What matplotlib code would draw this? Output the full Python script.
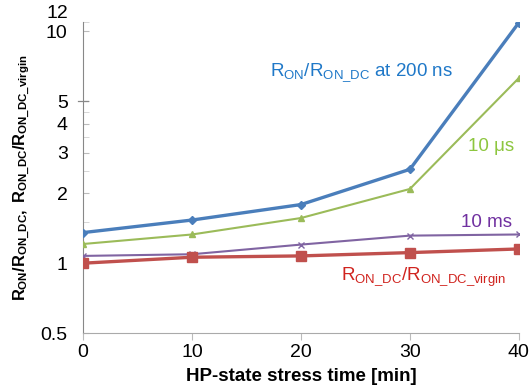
import matplotlib
matplotlib.use("Agg")
import matplotlib.pyplot as plt
import matplotlib.transforms as mtransforms
from matplotlib.ticker import FixedLocator, NullFormatter

plt.rcParams['font.family'] = ['Liberation Sans', 'DejaVu Sans']
plt.rcParams['mathtext.fontset'] = 'custom'
plt.rcParams['mathtext.rm'] = 'Liberation Sans'
plt.rcParams['mathtext.it'] = 'Liberation Sans:italic'
plt.rcParams['mathtext.bf'] = 'Liberation Sans:bold'

stress_time = [0, 10, 20, 30, 40]
ron_200ns = [1.355, 1.535, 1.79, 2.54, 10.9]
ron_10us = [1.21, 1.33, 1.566, 2.09, 6.29]
ron_10ms = [1.075, 1.093, 1.203, 1.315, 1.33]
ron_dc = [1.0, 1.061, 1.075, 1.111, 1.152]

ytick_vals = [0.5, 1, 2, 3, 4, 5, 10]
ytick_labels = ['0.5', '1', '2', '3', '4', '5', '10']
xtick_vals = [0, 10, 20, 30, 40]

fig = plt.figure(figsize=(5.3, 3.92), dpi=100)
ax = fig.add_axes([0.1566, 0.1505, 0.979 - 0.1566, 0.9446 - 0.1505])

ax.plot(stress_time, ron_200ns, color='#4A7EBB', lw=2.4, marker='D', ms=4.5, zorder=4)
ax.plot(stress_time, ron_10us, color='#9BBB59', lw=1.5, marker='^', ms=5, zorder=3)
ax.plot(stress_time, ron_10ms, color='#8064A2', lw=1.5, marker='x', ms=5, mew=1.0, zorder=3)
ax.plot(stress_time, ron_dc, color='#C0504D', lw=2.4, marker='s', ms=7, zorder=5)

ax.set_yscale('log')
ax.set_ylim(0.5, 11)
ax.set_xlim(0, 40)

ax.yaxis.set_major_locator(FixedLocator(ytick_vals))
ax.set_yticklabels(ytick_labels)
ax.yaxis.set_minor_locator(FixedLocator([1.5, 2.5, 3.5, 4.5, 11]))
ax.yaxis.set_minor_formatter(NullFormatter())
ax.tick_params(axis='y', which='major', direction='in', length=4, color='#BBBBBB',
               labelsize=14, pad=11)
ax.tick_params(axis='y', which='minor', direction='in', length=4, color='#D0D0D0')
ax.set_xticks(xtick_vals)
ax.tick_params(axis='x', which='major', direction='out', length=5, color='#BBBBBB',
               labelsize=14, pad=3)

for s in ['top', 'right']:
    ax.spines[s].set_visible(False)
ax.spines['left'].set_color('#888888')
ax.spines['bottom'].set_color('#AAAAAA')

# crossing tick at 5
bt = mtransforms.blended_transform_factory(ax.transAxes, ax.transData)
for v in [5]:
    ax.plot([-0.012, 0.012], [v, v], color='#888888', lw=0.9, transform=bt, clip_on=False)

ax.text(-0.033, 11.9, '12', transform=bt, ha='right', va='center', fontsize=14, clip_on=False)

ax.set_xlabel('HP-state stress time [min]', fontsize=13.5, fontweight='bold', labelpad=5)
ax.set_ylabel(r'$\mathbf{R}_{\mathbf{ON}}\mathbf{/R}_{\mathbf{ON\_DC}}\mathbf{,\ R}_{\mathbf{ON\_DC}}'
              r'\mathbf{/R}_{\mathbf{ON\_DC\_virgin}}$', fontsize=11.8, labelpad=6)

ax.text(0.428, 0.835, r'R$_{\mathrm{ON}}$/R$_{\mathrm{ON\_DC}}$ at 200 ns', transform=ax.transAxes,
        color='#1F78C8', fontsize=13.5, va='center', ha='left')
ax.text(0.99, 0.60, '10 μs', transform=ax.transAxes, color='#8DC63F', fontsize=13.5,
        va='center', ha='right')
ax.text(0.985, 0.355, '10 ms', transform=ax.transAxes, color='#7030A0', fontsize=13.5,
        va='center', ha='right')
ax.text(0.97, 0.18, r'R$_{\mathrm{ON\_DC}}$/R$_{\mathrm{ON\_DC\_virgin}}$', transform=ax.transAxes,
        color='#D0231E', fontsize=13.5, va='center', ha='right')

fig.savefig('out.png', dpi=100)
